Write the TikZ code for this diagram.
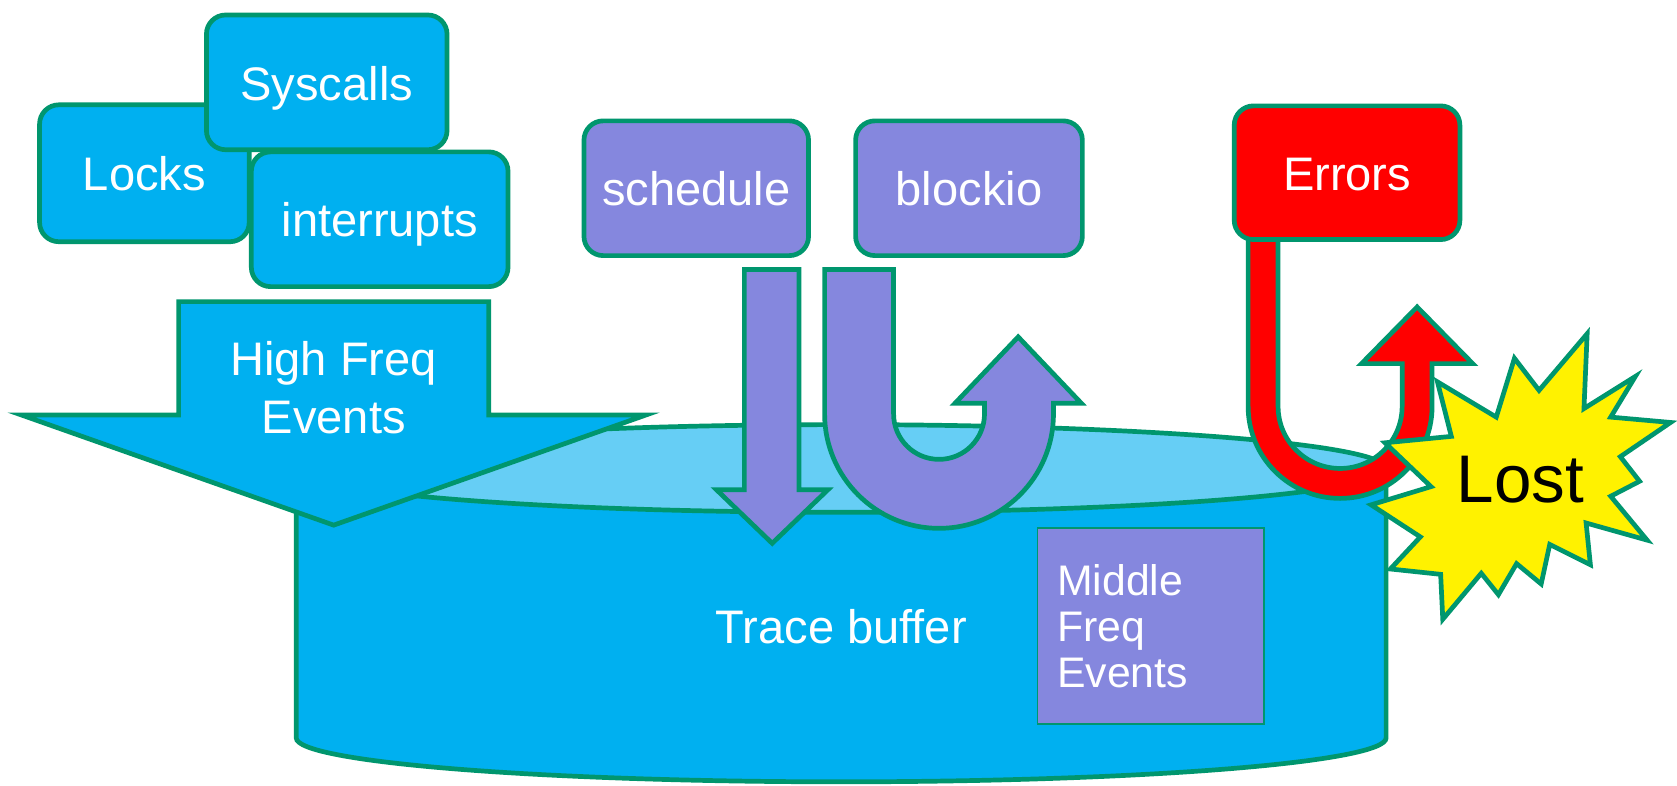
\documentclass[tikz,border=0pt]{standalone}
\usepackage{fontspec}
\setmainfont{Liberation Sans}
\definecolor{edge}{RGB}{0,150,110}
\definecolor{sky}{RGB}{0,176,240}
\definecolor{skylight}{RGB}{102,206,245}
\definecolor{lav}{RGB}{133,135,222}
\begin{document}
\begin{tikzpicture}[x=1pt,y=-1pt,line join=miter,
  tbox/.style={draw=edge, line width=4.4pt, rounded corners=18pt, inner sep=0pt,
    text=white, font=\fontsize{44}{52}\selectfont, text height=33pt, text depth=0pt},
  block/.style={draw=edge, line width=4.4pt},
  whitetext/.style={text=white, font=\fontsize{44}{52}\selectfont, inner sep=0pt}]
\fill[white] (0,0) rectangle (1568,734);
\useasboundingbox (0,0) rectangle (1568,734);

% high-frequency event sources
\node[tbox, fill=sky, minimum width=196pt, minimum height=128pt] (locks) at (135,162) {Locks};
\node[tbox, fill=sky, minimum width=225pt, minimum height=126pt] (syscalls) at (305.5,77) {Syscalls};
\node[tbox, fill=sky, minimum width=240pt, minimum height=126pt] (interrupts) at (355,205) {interrupts};

% the trace buffer drum
\draw[block, fill=sky] (277,438) -- (277,690)
  arc[start angle=180, end angle=0, x radius=509.5, y radius=41] -- (1296,438) -- cycle;
\draw[block, fill=skylight] (786.5,438) ellipse[x radius=509.5, y radius=41];
\node[whitetext, anchor=base] (trace) at (786.5,602) {Trace buffer};
\node[draw=edge, line width=1.6pt, fill=lav, minimum width=212pt, minimum height=183pt,
  inner sep=0pt, text width=175pt, align=left, text=white,
  font=\fontsize{40}{43}\selectfont] (mid) at (1076,585.5) {Middle\\Freq\\Events};

% wide arrow for high-frequency events
\draw[block, fill=sky] (167,282) -- (457,282) -- (457,388) -- (604,388) -- (312,491)
  -- (20,388) -- (167,388) -- cycle;
\node[whitetext, align=center, font=\fontsize{44}{54.7}\selectfont] (hf) at (312,362.5) {High Freq\\Events};

% middle-frequency sources and their arrows
\node[tbox, fill=lav, minimum width=210pt, minimum height=126pt] (sched) at (651,176) {schedule};
\node[tbox, fill=lav, minimum width=212pt, minimum height=126pt] (blockio) at (906,176) {blockio};
\draw[block, fill=lav] (696,252) -- (747,252) -- (747,458) -- (774,458) -- (722,508)
  -- (670,458) -- (696,458) -- cycle;
\draw[block, fill=lav] (771,252) -- (835.5,252) -- (835.5,387)
  arc[start angle=180, end angle=0, radius=42.5] -- (920.5,377) -- (893,377) -- (952,315)
  -- (1011,377) -- (985,377) -- (985,387)
  arc[start angle=0, end angle=180, radius=107] -- cycle;

% errors bounce back
\draw[block, fill=red] (1167,215) -- (1195,215) -- (1195,380)
  arc[start angle=180, end angle=0, radius=58] -- (1311,340) -- (1273,340) -- (1325,287)
  -- (1377,340) -- (1339,340) -- (1339,380)
  arc[start angle=0, end angle=180, radius=86] -- cycle;
\node[tbox, fill=red, minimum width=211pt, minimum height=125pt] (errors) at (1259.5,161.5) {Errors};

% explosion
\draw[block, fill=yellow] (1295,414) -- (1338,455) -- (1282,472) -- (1328,502) -- (1300,532)
  -- (1347,537) -- (1349,579) -- (1385,536) -- (1401,556) -- (1418,527) -- (1441,546)
  -- (1449,509) -- (1487,528) -- (1483,489) -- (1540,505) -- (1506,464) -- (1533,450)
  -- (1515,427) -- (1562,395) -- (1506,390) -- (1529,352) -- (1481,382) -- (1484,312)
  -- (1439,365) -- (1416,335) -- (1399,390) -- (1344,357) -- (1357,408) -- cycle;
\node[anchor=base, inner sep=0pt, font=\fontsize{63}{70}\selectfont] (lost) at (1421.7,469.4) {Lost};
\end{tikzpicture}
\end{document}
